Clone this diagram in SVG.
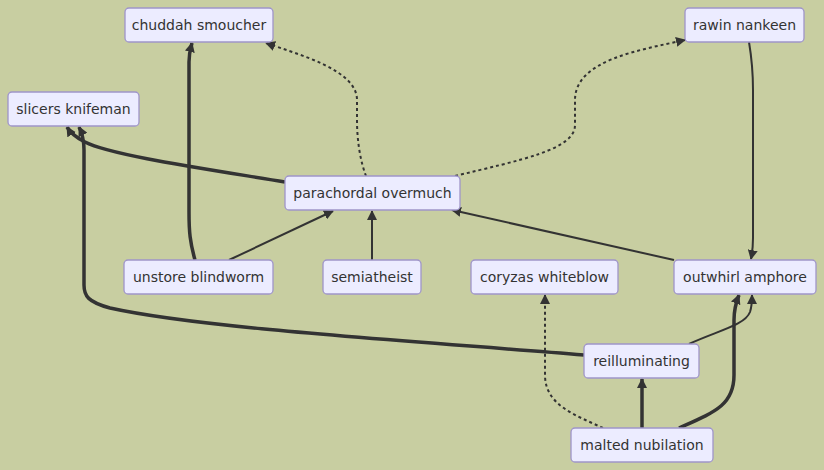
<svg xmlns="http://www.w3.org/2000/svg" width="824" height="470" viewBox="0 0 824 470">
<style>
.bg{fill:#c8cea1}
.node rect{fill:#ececff;stroke:#9f95c9;stroke-width:1.3}
.node text{font-family:"DejaVu Sans",Verdana,sans-serif;font-size:14px;fill:#333;text-anchor:middle;dominant-baseline:central}
.e{fill:none;stroke:#333;stroke-width:2}
.thick{stroke-width:3.5}
.dot{stroke-dasharray:3 3}
</style>
<defs>
<marker id="arr" viewBox="0 0 10 10" refX="9" refY="5" markerUnits="userSpaceOnUse" markerWidth="10" markerHeight="10" orient="auto">
<path d="M0,0 L10,5 L0,10 z" fill="#333"/>
</marker>
</defs>
<rect class="bg" x="0" y="0" width="824" height="470"/>
<g id="connectors">
<path class="e thick" d="M195,260 C190,242 189,232 189,212 L189,62 C189,52 191,47 192,43" marker-end="url(#arr)"/>
<path class="e dot" d="M366,176 C360,160 357,140 357,120 L357,100 C357,70 300,55 266,43" marker-end="url(#arr)"/>
<path class="e thick" d="M285,182 C200,168 110,155 85,142 C75,137 70,132 67,127" marker-end="url(#arr)"/>
<path class="e thick" d="M584,355 C400,340 200,328 110,308 C88,302 84,296 84,285 L84,150 C84,140 82,133 79,127" marker-end="url(#arr)"/>
<path class="e dot" d="M455,176 C520,160 575,150 575,125 L575,100 C575,60 640,50 685,40" marker-end="url(#arr)"/>
<path class="e" d="M749,42 C752,60 753,70 753,90 L753,238 C753,248 752,254 751,259" marker-end="url(#arr)"/>
<path class="e" d="M229,260 L333,211" marker-end="url(#arr)"/>
<path class="e" d="M372,260 L372,211" marker-end="url(#arr)"/>
<path class="e" d="M674,260 L452,210" marker-end="url(#arr)"/>
<path class="e dot" d="M603,428 C575,415 545,405 545,375 L545,295" marker-end="url(#arr)"/>
<path class="e thick" d="M642,428 L642,379" marker-end="url(#arr)"/>
<path class="e thick" d="M679,428 C715,412 734,405 734,375 L734,320 C734,308 737,300 739,295" marker-end="url(#arr)"/>
<path class="e" d="M689,344 C720,330 745,325 750,312 C752,306 752,300 752,295" marker-end="url(#arr)"/>
</g>
<g id="chuddah-smoucher" class="node"><rect x="125" y="8" width="148" height="34" rx="4"/><text x="199" y="25">chuddah smoucher</text></g>
<g id="slicers-knifeman" class="node"><rect x="8" y="92" width="131" height="34" rx="4"/><text x="73.5" y="109">slicers knifeman</text></g>
<g id="rawin-nankeen" class="node"><rect x="685" y="8" width="119" height="34" rx="4"/><text x="744.5" y="25">rawin nankeen</text></g>
<g id="parachordal-overmuch" class="node"><rect x="285" y="176" width="175" height="34" rx="4"/><text x="372.5" y="193">parachordal overmuch</text></g>
<g id="unstore-blindworm" class="node"><rect x="124" y="260" width="149" height="34" rx="4"/><text x="198.5" y="277">unstore blindworm</text></g>
<g id="semiatheist" class="node"><rect x="323" y="260" width="98" height="34" rx="4"/><text x="372" y="277">semiatheist</text></g>
<g id="coryzas-whiteblow" class="node"><rect x="471" y="260" width="147" height="34" rx="4"/><text x="544.5" y="277">coryzas whiteblow</text></g>
<g id="outwhirl-amphore" class="node"><rect x="674" y="260" width="142" height="34" rx="4"/><text x="745" y="277">outwhirl amphore</text></g>
<g id="reilluminating" class="node"><rect x="584" y="344" width="115" height="34" rx="4"/><text x="641.5" y="361">reilluminating</text></g>
<g id="malted-nubilation" class="node"><rect x="571" y="428" width="142" height="34" rx="4"/><text x="642" y="445">malted nubilation</text></g>
</svg>
